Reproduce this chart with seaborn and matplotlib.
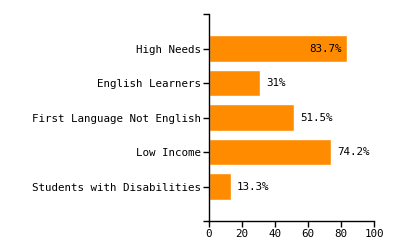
import matplotlib
matplotlib.use("Agg")
import matplotlib.pyplot as plt
import seaborn as sns
import pandas as pd

categories = ["High Needs", "English Learners", "First Language Not English",
              "Low Income", "Students with Disabilities"]
values = [83.7, 31, 51.5, 74.2, 13.3]
labels = ["83.7%", "31%", "51.5%", "74.2%", "13.3%"]
xticks = [0, 20, 40, 60, 80, 100]

sns.set_style("ticks")
plt.rcParams["font.family"] = ["DejaVu Sans Mono", "DejaVu Sans"]

df = pd.DataFrame({"category": categories, "value": values})

fig = plt.figure(figsize=(4, 2.5), dpi=100)
ax = fig.add_axes([209 / 400, 1 - 221 / 250, 165 / 400, 207 / 250])

sns.barplot(data=df, x="value", y="category", orient="h", color="#FF8C00",
            saturation=1, width=0.78, ax=ax)

fs = 7.8
for i, (v, lab) in enumerate(zip(values, labels)):
    if v > 80:
        ax.text(v - 3, i, lab, ha="right", va="center", fontsize=fs, color="black")
    else:
        ax.text(v + 3.5, i, lab, ha="left", va="center", fontsize=fs, color="black")

ax.set_xlim(0, 100)
ax.set_ylim(5, -1)
ax.set_xticks(xticks)
ax.set_xticklabels([str(t) for t in xticks], fontsize=fs)
ax.set_yticks([-1, 0, 1, 2, 3, 4, 5])
ax.set_yticklabels([""] + categories + [""], fontsize=fs)
ax.set_xlabel("")
ax.set_ylabel("")
sns.despine(ax=ax)
for s in ["left", "bottom"]:
    ax.spines[s].set_color("black")
    ax.spines[s].set_linewidth(1)
ax.tick_params(axis="both", length=4.5, width=1, color="black", pad=1.5, labelcolor="black")

fig.savefig("out.png", dpi=100)
